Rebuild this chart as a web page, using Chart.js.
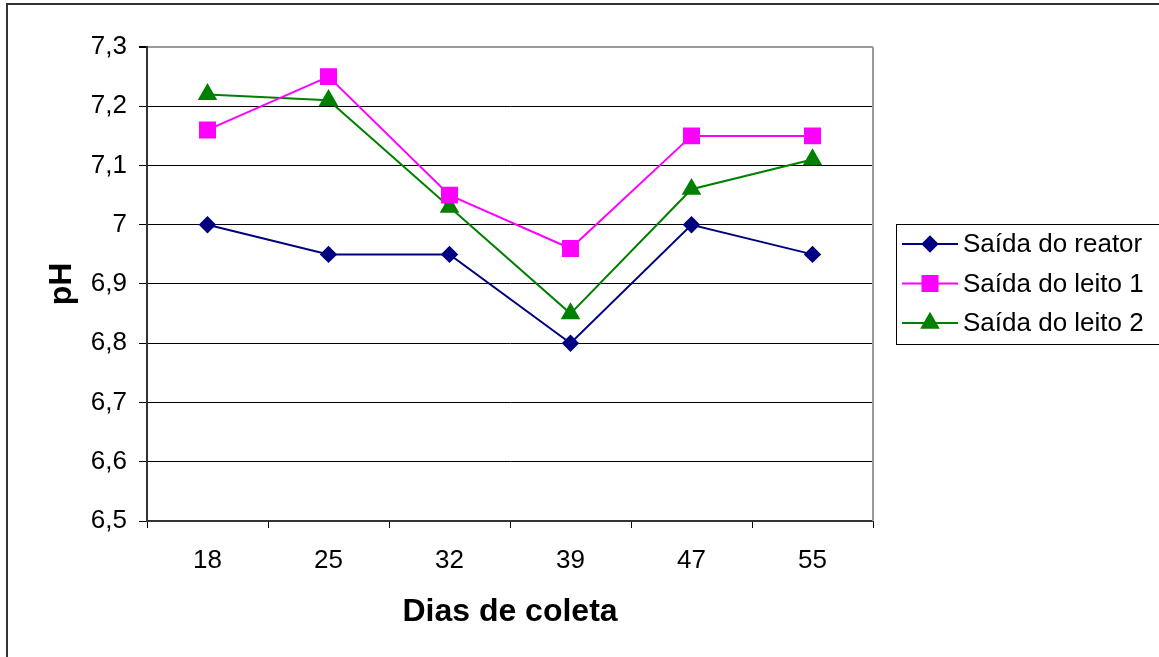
<!DOCTYPE html>
<html>
<head>
<meta charset="utf-8">
<script src="https://cdn.jsdelivr.net/npm/chart.js@4"></script>
<style>
  html, body { margin: 0; padding: 0; background: #fff; }
  #wrap { width: 1159px; height: 657px; position: relative; }
</style>
</head>
<body>
<div id="wrap"><canvas id="phChart" width="1159" height="657"></canvas></div>
<script>
// Dados
const dias = ['18', '25', '32', '39', '47', '55'];
const saidaReator = [7.0, 6.95, 6.95, 6.8, 7.0, 6.95];
const saidaLeito1 = [7.16, 7.25, 7.05, 6.96, 7.15, 7.15];
const saidaLeito2 = [7.22, 7.21, 7.03, 6.85, 7.06, 7.11];
const yMin = 6.5, yMax = 7.3, yStep = 0.1;

const fonte = "'Liberation Sans', Arial, sans-serif";

// moldura externa + borda cinza do plot
const molduraPlugin = {
    id: 'moldura',
    beforeDraw(chart) {
        const c = chart.ctx;
        c.save();
        c.fillStyle = '#fff';
        c.fillRect(0, 0, chart.width, chart.height);
        c.strokeStyle = '#333';
        c.lineWidth = 2;
        c.strokeRect(7, 4, chart.width + 20, chart.height + 20);
        c.restore();
    },
    afterDraw(chart) {
        const a = chart.chartArea;
        const c = chart.ctx;
        c.save();
        c.strokeStyle = '#999';
        c.lineWidth = 2;
        c.beginPath();
        c.moveTo(a.right, a.top);
        c.lineTo(a.right, a.bottom);
        c.stroke();
        c.restore();
    }
};

// legenda no estilo Excel (linha + marcador, com caixa)
const legendaPlugin = {
    id: 'legendaExcel',
    afterDraw(chart) {
        const c = chart.ctx;
        const x0 = 896, y0 = 224, w = 280, h = 120;
        c.save();
        c.strokeStyle = '#000';
        c.lineWidth = 1;
        c.strokeRect(x0 + 0.5, y0 + 0.5, w, h);
        c.font = '26px ' + fonte;
        c.textBaseline = 'middle';
        chart.data.datasets.forEach((ds, i) => {
            const y = y0 + 20 + i * 39.5;
            c.strokeStyle = ds.borderColor;
            c.lineWidth = 2;
            c.beginPath();
            c.moveTo(902, y);
            c.lineTo(958, y);
            c.stroke();
            c.fillStyle = ds.pointBackgroundColor;
            c.strokeStyle = ds.pointBorderColor;
            Chart.helpers.drawPoint(c, { pointStyle: ds.pointStyle, radius: ds.pointRadius, borderWidth: 1 }, 930, y);
            c.fillStyle = '#000';
            c.fillText(ds.label, 963, y + 1);
        });
        c.restore();
    }
};

const ctx = document.getElementById('phChart').getContext('2d');
const chart = new Chart(ctx, {
    type: 'line',
    data: {
        labels: dias,
        datasets: [{
            label: 'Saída do reator',
            data: saidaReator,
            borderColor: '#000080',
            borderWidth: 2,
            pointStyle: 'rectRot',
            pointRadius: 7.3,
            pointBackgroundColor: '#000080',
            pointBorderColor: '#000080',
            tension: 0
        }, {
            label: 'Saída do leito 1',
            data: saidaLeito1,
            borderColor: '#FF00FF',
            borderWidth: 2,
            pointStyle: 'rect',
            pointRadius: 10.6,
            pointBackgroundColor: '#FF00FF',
            pointBorderColor: '#FF00FF',
            tension: 0
        }, {
            label: 'Saída do leito 2',
            data: saidaLeito2,
            borderColor: '#008000',
            borderWidth: 2,
            pointStyle: 'triangle',
            pointRadius: 9.3,
            pointBackgroundColor: '#008000',
            pointBorderColor: '#008000',
            tension: 0
        }]
    },
    options: {
        responsive: false,
        animation: false,
        layout: { padding: { left: 10, top: 47, right: 286, bottom: 10 } },
        scales: {
            x: {
                offset: true,
                grid: {
                    offset: true,
                    drawOnChartArea: false,
                    drawTicks: true,
                    tickLength: 7,
                    tickColor: '#000'
                },
                border: { color: '#333', width: 2 },
                ticks: { color: '#000', font: { family: fonte, size: 26 }, padding: 17, maxRotation: 0 },
                title: {
                    display: true,
                    text: 'Dias de coleta',
                    color: '#000',
                    font: { family: fonte, size: 32, weight: 'bold' },
                    padding: { top: 4, bottom: 16 }
                },
                afterFit(scale) { scale.height = 657 - 521 - 10; }
            },
            y: {
                min: yMin,
                max: yMax,
                grid: {
                    color: (c) => (c.tick && Math.abs(c.tick.value - yMax) < 1e-6 ? '#999' : '#000'),
                    lineWidth: (c) => (c.tick && Math.abs(c.tick.value - yMax) < 1e-6 ? 2 : 1),
                    tickLength: 8,
                    tickColor: '#000'
                },
                border: { color: '#333', width: 2 },
                ticks: {
                    stepSize: yStep,
                    color: '#000',
                    font: { family: fonte, size: 26 },
                    padding: 12,
                    callback: (v) => {
                        const s = (Math.round(v * 10) / 10).toString();
                        return s.replace('.', ',');
                    }
                },
                title: {
                    display: true,
                    text: 'pH',
                    color: '#000',
                    font: { family: fonte, size: 32, weight: 'bold' },
                    padding: { top: 33, bottom: 4 }
                },
                afterFit(scale) { scale.width = 147 - 10; }
            }
        },
        plugins: {
            legend: { display: false },
            tooltip: { enabled: false }
        }
    },
    plugins: [molduraPlugin, legendaPlugin]
});
</script>
</body>
</html>
